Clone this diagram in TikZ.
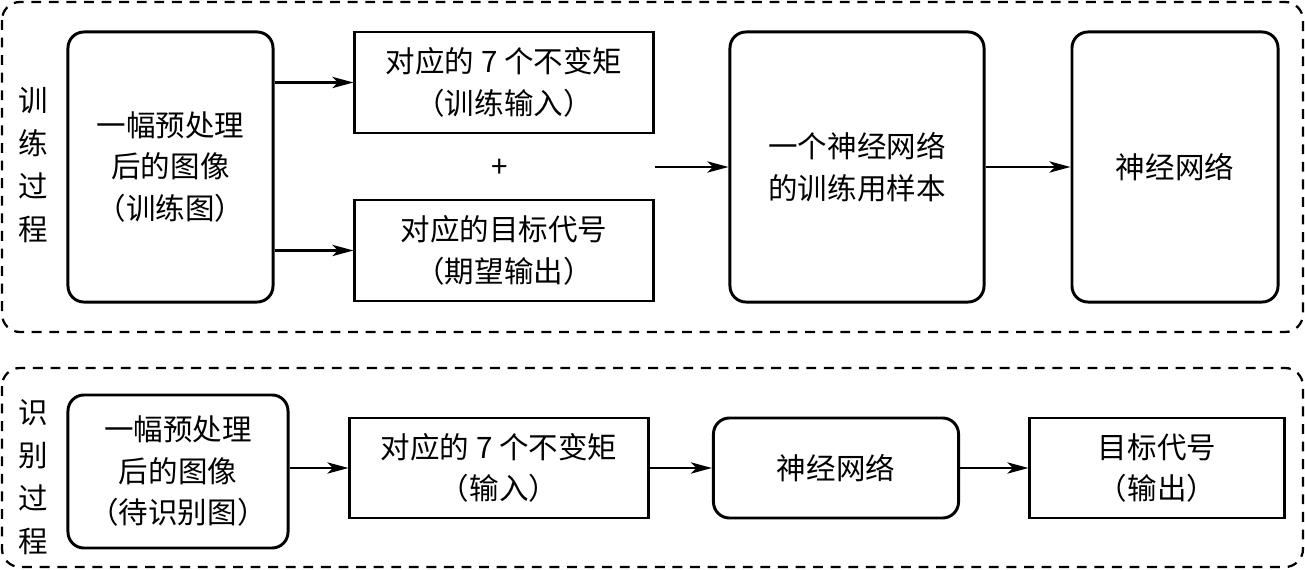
\documentclass[tikz,border=0pt]{standalone}
\usepackage{fontspec}
\setmainfont{Noto Sans CJK SC}
\usetikzlibrary{arrows.meta,positioning}
\tikzset{
  rbox/.style={draw,line width=2.1pt,rounded corners=0.4cm,align=center,
        font=\fontsize{21}{29.5}\selectfont,inner sep=0pt},
  sbox/.style={draw,line width=2.1pt,align=center,
        font=\fontsize{21}{29.5}\selectfont,inner sep=0pt},
  group/.style={draw,line width=1.6pt,rounded corners=0.45cm,
        dash pattern=on 7pt off 5.5pt},
  side/.style={align=center,font=\fontsize{21}{30.5}\selectfont,inner sep=0pt},
  arr/.style={line width=1.5pt,-{Stealth[length=15pt,width=8pt,inset=4pt]}}
}
\begin{document}
\begin{tikzpicture}[x=0.025cm,y=-0.025cm]
  \useasboundingbox (0,0) rectangle (1305,570);
  %% Dashed groups
  \draw[group] (2,2) rectangle (1303,332);
  \draw[group] (2,368) rectangle (1303,567);
  \node[side] (trainlbl) at (33,165) {训\\练\\过\\程};
  \node[side] (recoglbl) at (33,477) {识\\别\\过\\程};
  %% Training row
  \node[rbox,minimum width=5.125cm,minimum height=6.75cm]
        (img) at (170.5,167) {一幅预处理\\后的图像\\（训练图）};
  \node[sbox,minimum width=7.45cm,minimum height=2.525cm]
        (moments) at (504,82.5) {对应的 7 个不变矩\\（训练输入）};
  \node[sbox,minimum width=7.45cm,minimum height=2.525cm]
        (target) at (504,250.5) {对应的目标代号\\（期望输出）};
  \node[font=\fontsize{21}{24}\selectfont] (plus) at (500,168) {+};
  \node[rbox,minimum width=6.35cm,minimum height=6.75cm]
        (sample) at (857,167) {一个神经网络\\的训练用样本};
  \node[rbox,minimum width=5.15cm,minimum height=6.75cm]
        (net) at (1175,167) {神经网络};
  \coordinate (pair) at (moments.east |- sample.west);
  \draw[arr] (img.east |- moments.west) -- (moments.west);
  \draw[arr] (img.east |- target.west) -- (target.west);
  \draw[arr] (pair) -- (sample.west);
  \draw[arr] (sample.east) -- (net.west);
  %% Recognition row
  \node[rbox,minimum width=5.5cm,minimum height=3.825cm]
        (testimg) at (178,471.5) {一幅预处理\\后的图像\\（待识别图）};
  \node[sbox,minimum width=7.45cm,minimum height=2.5cm]
        (testmom) at (499,468) {对应的 7 个不变矩\\（输入）};
  \node[rbox,minimum width=6.125cm,minimum height=2.5cm]
        (trained) at (836,468) {神经网络};
  \node[sbox,minimum width=6.35cm,minimum height=2.5cm]
        (code) at (1157,468) {目标代号\\（输出）};
  \draw[arr] (testimg.east |- testmom.west) -- (testmom.west);
  \draw[arr] (testmom.east) -- (trained.west);
  \draw[arr] (trained.east) -- (code.west);
\end{tikzpicture}
\end{document}
